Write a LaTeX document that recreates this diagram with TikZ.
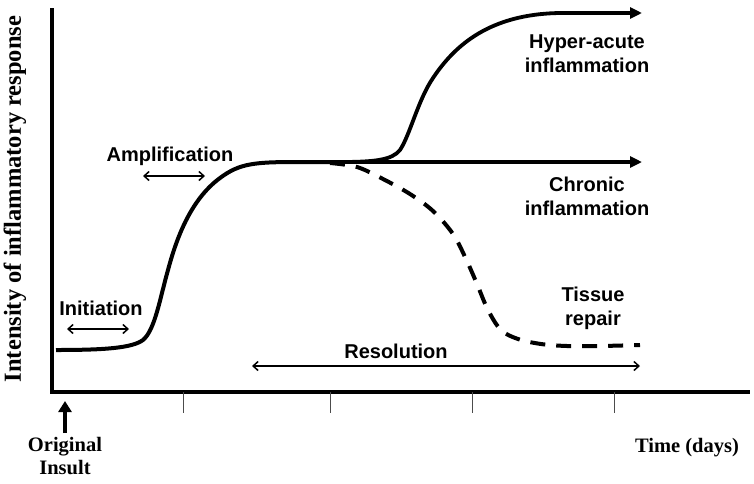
\documentclass[tikz,border=0pt]{standalone}
\usepackage{fontspec}
\setmainfont{Liberation Serif}
\setsansfont{Liberation Sans}
\usetikzlibrary{arrows.meta}
\begin{document}
\begin{tikzpicture}[x=1pt,y=-1pt,
  lbl/.style={font=\sffamily\bfseries\fontsize{20}{24}\selectfont, align=center, inner sep=0pt},
  axlbl/.style={font=\rmfamily\bfseries\fontsize{20.5}{23}\selectfont, align=center, inner sep=0pt},
  axisline/.style={line width=4pt, line cap=rect},
  tickline/.style={line width=1pt, black!70},
  curve/.style={line width=4pt, line join=round},
  bigarrow/.style={line width=3.5pt, -{Triangle[length=12pt,width=11pt]}},
  spanarrow/.style={line width=1.5pt, {Straight Barb[length=5pt,width=9pt]}-{Straight Barb[length=5pt,width=9pt]}},
  dashcurve/.style={line width=4pt, dash pattern=on 15pt off 11pt}]
\useasboundingbox (0,0) rectangle (754,483);

% axes
\coordinate (ytop) at (52,10);
\coordinate (origin) at (52,392);
\coordinate (xend) at (748,392);
\draw[axisline] (ytop) -- (origin) -- (xend);
\foreach \x in {183,330,472,614}
  \draw[tickline] (\x,392) -- (\x,413);

% axis labels
\node[axlbl, font=\rmfamily\bfseries\fontsize{24.5}{28}\selectfont, rotate=90] (ylab) at (15,199) {Intensity of inflammatory response};
\node[axlbl] (time) at (687,448) {Time (days)};
\node[axlbl] (insult) at (65,456) {Original\\Insult};
\coordinate (insulttip) at (65,401);
\draw[line width=4pt, -{Triangle[length=11pt,width=13pt]}] ([yshift=4pt]insult.north) -- (insulttip);

% main curve
\draw[curve] (56,350) .. controls (105,350) and (132,348) .. (143,340)
  .. controls (155,330) and (160,298) .. (168,270)
  .. controls (176,240) and (190,200) .. (220,178)
  .. controls (240,163) and (255,162) .. (300,162) -- (340,162);

% chronic
\coordinate (chronA) at (295,162);
\coordinate (chronB) at (642,162);
\draw[bigarrow] (chronA) -- (chronB);

% hyper-acute
\coordinate (hypB) at (642,13);
\draw[curve, line width=3.8pt, -{Triangle[length=12pt,width=11pt]}] (340,162) .. controls (375,162) and (392,160) .. (400,150)
  .. controls (410,135) and (418,100) .. (433,78)
  .. controls (455,45) and (490,14) .. (560,13) -- (hypB);

% resolution dashed
\draw[dashcurve] plot[smooth, tension=0.55] coordinates {(330,163) (357,167) (383,179) (410,194) (433,211) (453,234) (466,259) (477,284) (488,310) (501,330) (518,339) (541,344) (567,346) (600,346) (640,345)};

% labels
\node[lbl] (hyp) at (587,54) {Hyper-acute\\inflammation};
\node[lbl] (chron) at (587,196) {Chronic\\inflammation};
\node[lbl] (tissue) at (593,308) {Tissue\\repair};
\node[lbl] (resol) at (396,351) {Resolution};
\node[lbl] (ampl) at (170,156) {Amplification};
\node[lbl] (init) at (101,308) {Initiation};

% span arrows
\coordinate (iniA) at (67,329); \coordinate (iniB) at (129,329);
\draw[spanarrow] (iniA) -- (iniB);
\coordinate (ampA) at (143,176); \coordinate (ampB) at (205,176);
\draw[spanarrow] (ampA) -- (ampB);
\coordinate (resA) at (252,366); \coordinate (resB) at (640,366);
\draw[spanarrow] (resA) -- (resB);
\end{tikzpicture}
\end{document}
